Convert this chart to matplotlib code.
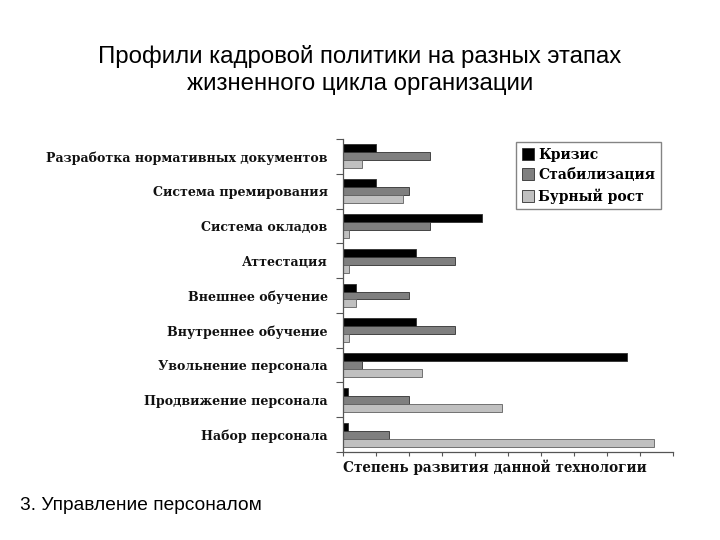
import numpy as np
import matplotlib.pyplot as plt
from matplotlib.patches import Patch

plt.close('all')

# categories from bottom to top
kategorii = ['Набор персонала', 'Продвижение персонала', 'Увольнение персонала',
             'Внутреннее обучение', 'Внешнее обучение', 'Аттестация',
             'Система окладов', 'Система премирования',
             'Разработка нормативных документов']
krizis = [0.15, 0.15, 8.6, 2.2, 0.4, 2.2, 4.2, 1.0, 1.0]
stabil = [1.4, 2.0, 0.57, 3.4, 2.0, 3.4, 2.63, 2.0, 2.63]
rost = [9.42, 4.83, 2.4, 0.18, 0.4, 0.18, 0.18, 1.82, 0.59]
serii = ['Кризис', 'Стабилизация', 'Бурный рост']
cveta = ['#000000', '#7f7f7f', '#c0c0c0']

fig = plt.figure(figsize=(7.2, 5.4), dpi=100)
ax = fig.add_axes([343/720, 1-452/540, 330/720, 313/540])

y = np.arange(len(kategorii))
h = 0.23
ax.barh(y + h, krizis, height=h, color=cveta[0], edgecolor='#303030', linewidth=0.6)
ax.barh(y, stabil, height=h, color=cveta[1], edgecolor='#303030', linewidth=0.6)
ax.barh(y - h, rost, height=h, color=cveta[2], edgecolor='#606060', linewidth=0.6)

ax.set_xlim(0, 10)
ax.set_ylim(-0.5, len(kategorii) - 0.5)
ax.set_xticks(np.arange(0, 11))
ax.set_xticklabels([])
ax.set_yticks(np.arange(-0.5, len(kategorii), 1.0))
ax.set_yticklabels([])
ax.set_yticks(y, minor=True)
ax.set_yticklabels(kategorii, minor=True, family='DejaVu Serif', fontweight='bold',
                   fontsize=9.1, color='#111111')
ax.tick_params(axis='y', which='minor', length=0, pad=11)
ax.tick_params(axis='y', which='major', length=5, width=0.8, color='#555555')
ax.tick_params(axis='x', length=3, width=0.8, color='#555555')
for s in ['top', 'right']:
    ax.spines[s].set_visible(False)
for s in ['left', 'bottom']:
    ax.spines[s].set_color('#555555')
    ax.spines[s].set_linewidth(0.9)

fig.text(343/720, 1-467/540, 'Степень развития данной технологии', family='DejaVu Serif',
         fontweight='bold', fontsize=9.8, ha='left', va='center', color='#111111')

ruchki = [Patch(facecolor=c, edgecolor='#303030', linewidth=0.6) for c in cveta]
leg = fig.legend(ruchki, serii, loc='upper left', bbox_to_anchor=(516/720, 1-142/540),
                 prop={'family': 'DejaVu Serif', 'weight': 'bold', 'size': 10},
                 frameon=True, fancybox=False, handlelength=0.9, handleheight=0.9,
                 handletextpad=0.3, borderpad=0.4, labelspacing=0.45, borderaxespad=0)
leg.get_frame().set_edgecolor('#666666')
leg.get_frame().set_linewidth(1.0)

fig.text(0.5, 1-57/540, 'Профили кадровой политики на разных этапах',
         family='Liberation Sans', fontsize=17.3, ha='center', va='center')
fig.text(0.5, 1-84/540, 'жизненного цикла организации',
         family='Liberation Sans', fontsize=17.3, ha='center', va='center')
fig.text(20/720, 1-505/540, '3. Управление персоналом', family='Liberation Sans',
         fontsize=13.8, ha='left', va='center')

fig.savefig('out.png', dpi=100)
